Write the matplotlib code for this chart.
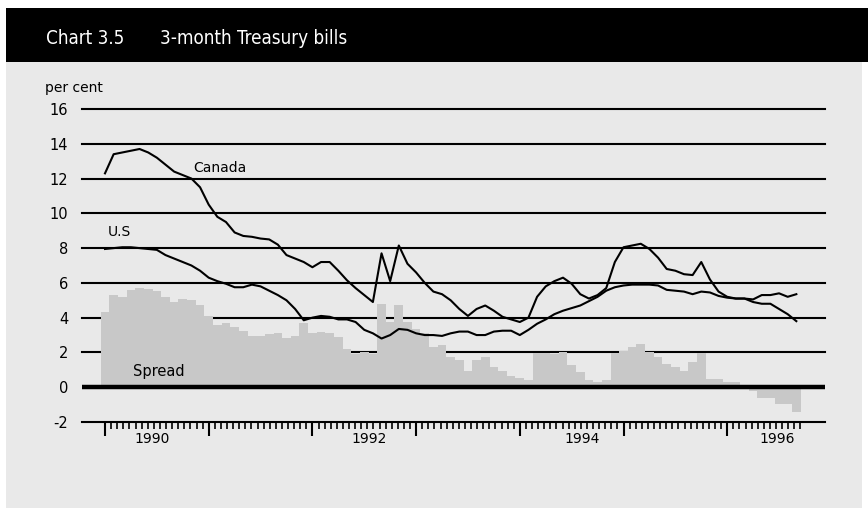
import numpy as np
import matplotlib
matplotlib.use("Agg")
import matplotlib.pyplot as plt
from matplotlib.patches import Rectangle

# Monthly data, Jan 1990 .. Sep 1996
start_year = 1990
canada = [12.3, 13.4, 13.5, 13.6, 13.7, 13.5, 13.2, 12.8, 12.4, 12.2, 12.0, 11.5,
          10.5, 9.8, 9.5, 8.9, 8.7, 8.65, 8.55, 8.5, 8.2, 7.6, 7.4, 7.2,
          6.9, 7.2, 7.2, 6.7, 6.15, 5.7, 5.3, 4.9, 7.7, 6.1, 8.15, 7.1,
          6.6, 6.0, 5.5, 5.35, 5.0, 4.5, 4.1, 4.5, 4.7, 4.4, 4.05, 3.9,
          3.75, 4.0, 5.2, 5.8, 6.1, 6.3, 5.95, 5.35, 5.1, 5.3, 5.7, 7.2,
          8.05, 8.15, 8.25, 7.95, 7.45, 6.8, 6.7, 6.5, 6.45, 7.2, 6.2, 5.5,
          5.2, 5.1, 5.1, 4.9, 4.8, 4.8, 4.5, 4.2, 3.8]
us = [7.95, 8.0, 8.05, 8.05, 8.0, 7.95, 7.9, 7.6, 7.4, 7.2, 7.0, 6.7,
      6.3, 6.1, 5.95, 5.75, 5.75, 5.9, 5.8, 5.55, 5.3, 5.0, 4.5, 3.85,
      4.0, 4.1, 4.05, 3.9, 3.9, 3.75, 3.3, 3.1, 2.8, 3.0, 3.35, 3.3,
      3.1, 3.0, 3.0, 2.95, 3.1, 3.2, 3.2, 3.0, 3.0, 3.2, 3.25, 3.25,
      3.0, 3.3, 3.65, 3.9, 4.2, 4.4, 4.55, 4.7, 4.95, 5.2, 5.55, 5.75,
      5.85, 5.9, 5.9, 5.9, 5.85, 5.6, 5.55, 5.5, 5.35, 5.5, 5.45, 5.25,
      5.15, 5.1, 5.1, 5.05, 5.3, 5.3, 5.4, 5.2, 5.35]
spread = [4.3, 5.3, 5.2, 5.6, 5.7, 5.65, 5.55, 5.2, 4.9, 5.1, 5.0, 4.75,
          4.1, 3.6, 3.7, 3.45, 3.25, 2.95, 2.95, 3.05, 3.1, 2.85, 2.95, 3.7,
          3.1, 3.2, 3.1, 2.9, 2.2, 1.9, 2.05, 1.9, 4.8, 3.75, 4.7, 3.75,
          3.35, 3.1, 2.3, 2.45, 1.75, 1.55, 0.95, 1.55, 1.75, 1.15, 0.95, 0.65,
          0.55, 0.4, 1.95, 1.95, 1.9, 2.05, 1.25, 0.85, 0.4, 0.3, 0.4, 1.95,
          2.1, 2.3, 2.5, 2.0, 1.75, 1.35, 1.15, 0.95, 1.45, 1.95, 0.5, 0.5,
          0.3, 0.3, 0.1, -0.2, -0.6, -0.6, -0.95, -0.95, -1.45]
y_ticks = [-2, 0, 2, 4, 6, 8, 10, 12, 14, 16]
year_labels = ["1990", "1992", "1994", "1996"]
year_label_pos = [1990.45, 1992.55, 1994.6, 1996.48]

W, H = 868, 519
fig = plt.figure(figsize=(W / 100, H / 100), dpi=100)
fig.patch.set_facecolor("white")

# background panel and title bar
fig.add_artist(Rectangle((6 / W, 1 - 508 / H), (862 - 6) / W, (508 - 62) / H,
                         transform=fig.transFigure, facecolor="#e9e9e9",
                         edgecolor="none", zorder=0))
fig.add_artist(Rectangle((6 / W, 1 - 62 / H), (868 - 6) / W, (62 - 8) / H,
                         transform=fig.transFigure, facecolor="black",
                         edgecolor="none", zorder=0))
fig.text(46 / W, 1 - 38 / H, "Chart 3.5", color="white", fontsize=13.5,
         va="center", ha="left", fontstretch="condensed")
fig.text(160 / W, 1 - 38 / H, "3-month Treasury bills", color="white",
         fontsize=13.5, va="center", ha="left", fontstretch="condensed")
fig.text(45 / W, 1 - 88 / H, "per cent", fontsize=10, va="center", ha="left")

ax_left, ax_right = 82, 825
ax_top, ax_bot = 109, 422
ax = fig.add_axes([ax_left / W, 1 - ax_bot / H, (ax_right - ax_left) / W,
                   (ax_bot - ax_top) / H])
ax.set_facecolor("none")

px_per_year = 103.7
x0 = 1990 - (105 - ax_left) / px_per_year
x1 = 1990 + (ax_right - 105) / px_per_year
ax.set_xlim(x0, x1)
ax.set_ylim(-2, 16)

x = start_year + np.arange(len(canada)) / 12.0

# gridlines
for v in y_ticks[2:]:
    ax.axhline(v, color="black", lw=1.5, zorder=1, clip_on=False)

ax.bar(x, spread, width=1 / 12, color="#c8c8c8", linewidth=0, zorder=2)
ax.axhline(0, color="black", lw=3.2, zorder=3)

ax.plot(x, canada, color="black", lw=1.5, zorder=4)
ax.plot(x, us, color="black", lw=1.5, zorder=4)

ax.text(1990.85, 12.4, "Canada", fontsize=10, zorder=5)
ax.text(1990.03, 8.7, "U.S", fontsize=10, zorder=5)
ax.text(1990.27, 0.65, "Spread", fontsize=10.5, zorder=5)

for s in ["top", "right", "left"]:
    ax.spines[s].set_visible(False)
ax.spines["bottom"].set_linewidth(1.5)
ax.spines["bottom"].set_zorder(3)

ax.set_yticks(y_ticks)
ax.set_yticklabels([str(v) for v in y_ticks], fontsize=10.5)
ax.tick_params(axis="y", length=0, pad=10)

major = np.arange(1990, 1997)
minor = 1990 + np.arange(0, 6.75 * 17) / 17.0
ax.set_xticks(major)
ax.set_xticklabels([])
ax.set_xticks(minor, minor=True)
ax.tick_params(axis="x", which="major", length=10, width=1.5, direction="out")
ax.tick_params(axis="x", which="minor", length=5, width=1.2, direction="out")

for lbl, yr in zip(year_labels, year_label_pos):
    ax.annotate(lbl, (yr, -2), xytext=(0, -7), textcoords="offset points",
                ha="center", va="top", fontsize=10, annotation_clip=False)

fig.savefig("out.png", dpi=100)
